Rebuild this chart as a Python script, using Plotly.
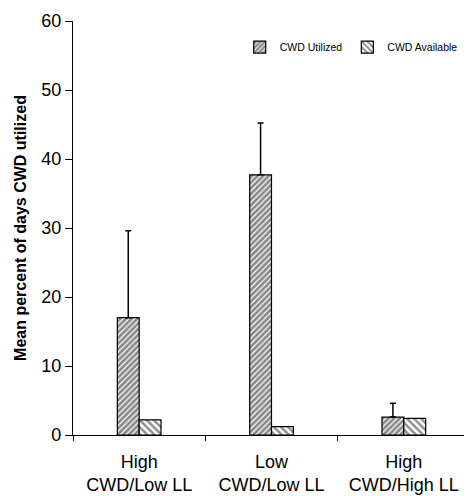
import plotly.graph_objects as go

categories = ["High<br>CWD/Low LL", "Low<br>CWD/Low LL", "High<br>CWD/High LL"]
utilized = [17.0, 37.7, 2.6]
utilized_err = [12.6, 7.5, 2.0]
available = [2.2, 1.2, 2.4]
y_ticks = [0, 10, 20, 30, 40, 50, 60]

FONT = "Arial, Liberation Sans, sans-serif"

fig = go.Figure()
fig.add_trace(go.Bar(
    x=categories, y=utilized, name="CWD Utilized",
    marker=dict(color="white", line=dict(color="black", width=1.2),
                pattern=dict(shape="/", fgcolor="#111", bgcolor="white", size=4, solidity=0.7)),
    error_y=dict(type="data", array=utilized_err, arrayminus=[0, 0, 0], symmetric=False,
                 color="black", thickness=1.5, width=3),
))
fig.add_trace(go.Bar(
    x=categories, y=available, name="CWD Available",
    marker=dict(color="white", line=dict(color="black", width=1.2),
                pattern=dict(shape="\\", fgcolor="#222", bgcolor="white", size=5, solidity=0.5)),
))

# page body has an 8px default margin, so the figure is sized to fit inside it
fig.update_layout(
    width=464, height=488,
    margin=dict(l=65, r=2, t=13, b=61),
    paper_bgcolor="white", plot_bgcolor="white",
    barmode="group", bargap=0.67, bargroupgap=0,
    font=dict(family=FONT, color="black"),
    showlegend=True,
    legend=dict(orientation="h", x=0.42, xanchor="left", y=0.937, yanchor="middle",
                font=dict(size=10.5, family=FONT), bgcolor="rgba(0,0,0,0)",
                itemwidth=30, traceorder="normal", tracegroupgap=0),
    xaxis=dict(showline=True, linecolor="black", linewidth=1.3, ticks="outside",
               tickson="boundaries", ticklen=5, tickcolor="black", automargin=False,
               ticklabelstandoff=10,
               tickfont=dict(size=18, family=FONT), showgrid=False, range=[-0.5, 2.5]),
    yaxis=dict(range=[0, 60], tickvals=y_ticks, showline=True, linecolor="black", linewidth=1.3,
               ticks="outside", ticklen=7, tickcolor="black", tickfont=dict(size=18, family=FONT),
               showgrid=False, zeroline=False, automargin=False,
               title=dict(text="<b>Mean percent of days CWD utilized</b>", font=dict(size=16, family=FONT),
                          standoff=10)),
)

fig.write_html("out.html")
